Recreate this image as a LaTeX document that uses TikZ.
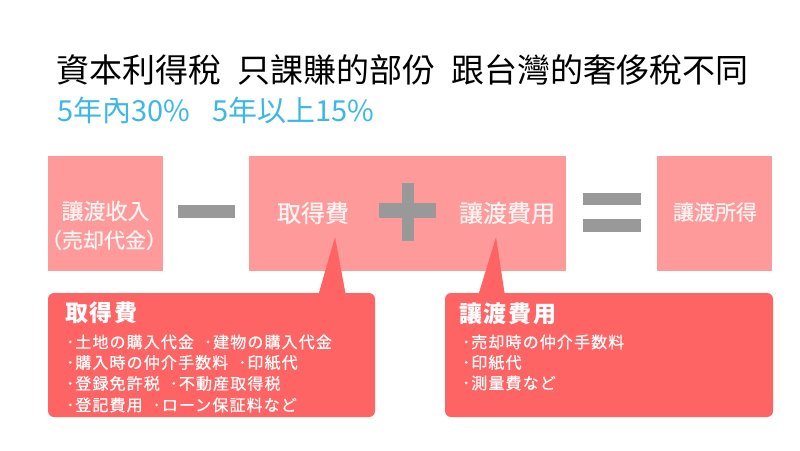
\documentclass[tikz,border=0pt]{standalone}
\usepackage{fontspec}
\newfontfamily\tcfont{Noto Sans CJK TC}
\newfontfamily\jpfont{Noto Sans CJK JP}[FakeBold=0.5]
\newfontfamily\jpwide{Noto Sans CJK JP}[LetterSpace=7,FakeBold=0.6]
\newfontfamily\jphead{Noto Sans CJK JP}[LetterSpace=7]
\definecolor{boxpink}{HTML}{FF9A9A}
\definecolor{callred}{HTML}{FF6464}
\definecolor{opgrey}{HTML}{999999}
\definecolor{subblue}{HTML}{3DB8E6}
\definecolor{boxtext}{HTML}{FFF4F4}
\tikzset{
  pinkbox/.style={fill=boxpink, draw=none, inner sep=0pt},
  callbox/.style={fill=callred, draw=none, rounded corners=6pt, inner sep=0pt},
  optbar/.style={fill=opgrey, draw=none},
  boxlabel/.style={text=boxtext, inner sep=0pt, font=\jpfont\fontsize{22}{26}\selectfont},
  callhead/.style={text=white, inner sep=0pt, anchor=base west, font=\jphead\bfseries\fontsize{23}{26}\selectfont},
  callitem/.style={text=white, inner sep=0pt, anchor=base west, font=\jpwide\fontsize{16}{20}\selectfont},
}
\begin{document}
\begin{tikzpicture}[x=1pt,y=-1pt]
\useasboundingbox[fill=white] (0,0) rectangle (800,450);

% title
\node[anchor=base west, inner sep=0pt, font=\tcfont\fontsize{33}{36}\selectfont] (title) at (56,82.5)
  {資本利得稅\hspace{16pt}只課賺的部份\hspace{16pt}跟台灣的奢侈稅不同};
\node[anchor=base west, inner sep=0pt, text=subblue, font=\tcfont\fontsize{29}{30}\selectfont] (sub) at (57,121)
  {5年內30\%\hspace{22pt}5年以上15\%};

% boxes
\node[pinkbox, minimum width=115pt, minimum height=115pt] (income) at (105.5,213.5) {};
\node[pinkbox, minimum width=317pt, minimum height=115pt] (cost) at (407.5,213.5) {};
\node[pinkbox, minimum width=115pt, minimum height=115pt] (gain) at (714.5,213.5) {};

\node[boxlabel] (incA) at (105.5,211) {讓渡收入};
\node[boxlabel, font=\jpfont\fontsize{21}{24}\selectfont] (incB) at (104,240) {（売却代金）};
\node[boxlabel, font=\jpfont\fontsize{24}{26}\selectfont] (acq) at (313,213) {取得費};
\node[boxlabel, font=\jpfont\fontsize{24}{26}\selectfont] (exp) at (507,213) {讓渡費用};
\node[boxlabel, font=\jpfont\fontsize{21}{24}\selectfont] (gainT) at (715,212) {讓渡所得};

% operators
\fill[optbar] (178,205) rectangle (235,218);
\fill[optbar] (379,203) rectangle (436,218);
\fill[optbar] (402,183) rectangle (414,241);
\fill[optbar] (583,193) rectangle (641,205);
\fill[optbar] (583,219) rectangle (641,232);

% callouts
\node[callbox, minimum width=327pt, minimum height=124pt] (callA) at (211.5,355) {};
\node[callbox, minimum width=328pt, minimum height=124pt] (callB) at (609,355) {};
\coordinate (tipA) at (335,237);
\coordinate (tipB) at (496,237);
\fill[callred] (tipA) -- (318,296) -- (346,296) -- cycle;
\fill[callred] (tipB) -- (478,296) -- (505,296) -- cycle;

\node[callhead] (hA) at (65,321) {取得費};
\node[callitem] (a1) at (66,348) {･土地の購入代金\hspace{10pt}･建物の購入代金};
\node[callitem] (a2) at (66,368.5) {･購入時の仲介手数料\hspace{10pt}･印紙代};
\node[callitem] (a3) at (66,389.5) {･登録免許税\hspace{10pt}･不動産取得税};
\node[callitem] (a4) at (66,411) {･登記費用\hspace{10pt}･ローン保証料など};

\node[callhead] (hB) at (459,322) {讓渡費用};
\node[callitem] (b1) at (462,348) {･売却時の仲介手数料};
\node[callitem] (b2) at (462,368.5) {･印紙代};
\node[callitem] (b3) at (462,389) {･測量費など};
\end{tikzpicture}
\end{document}
